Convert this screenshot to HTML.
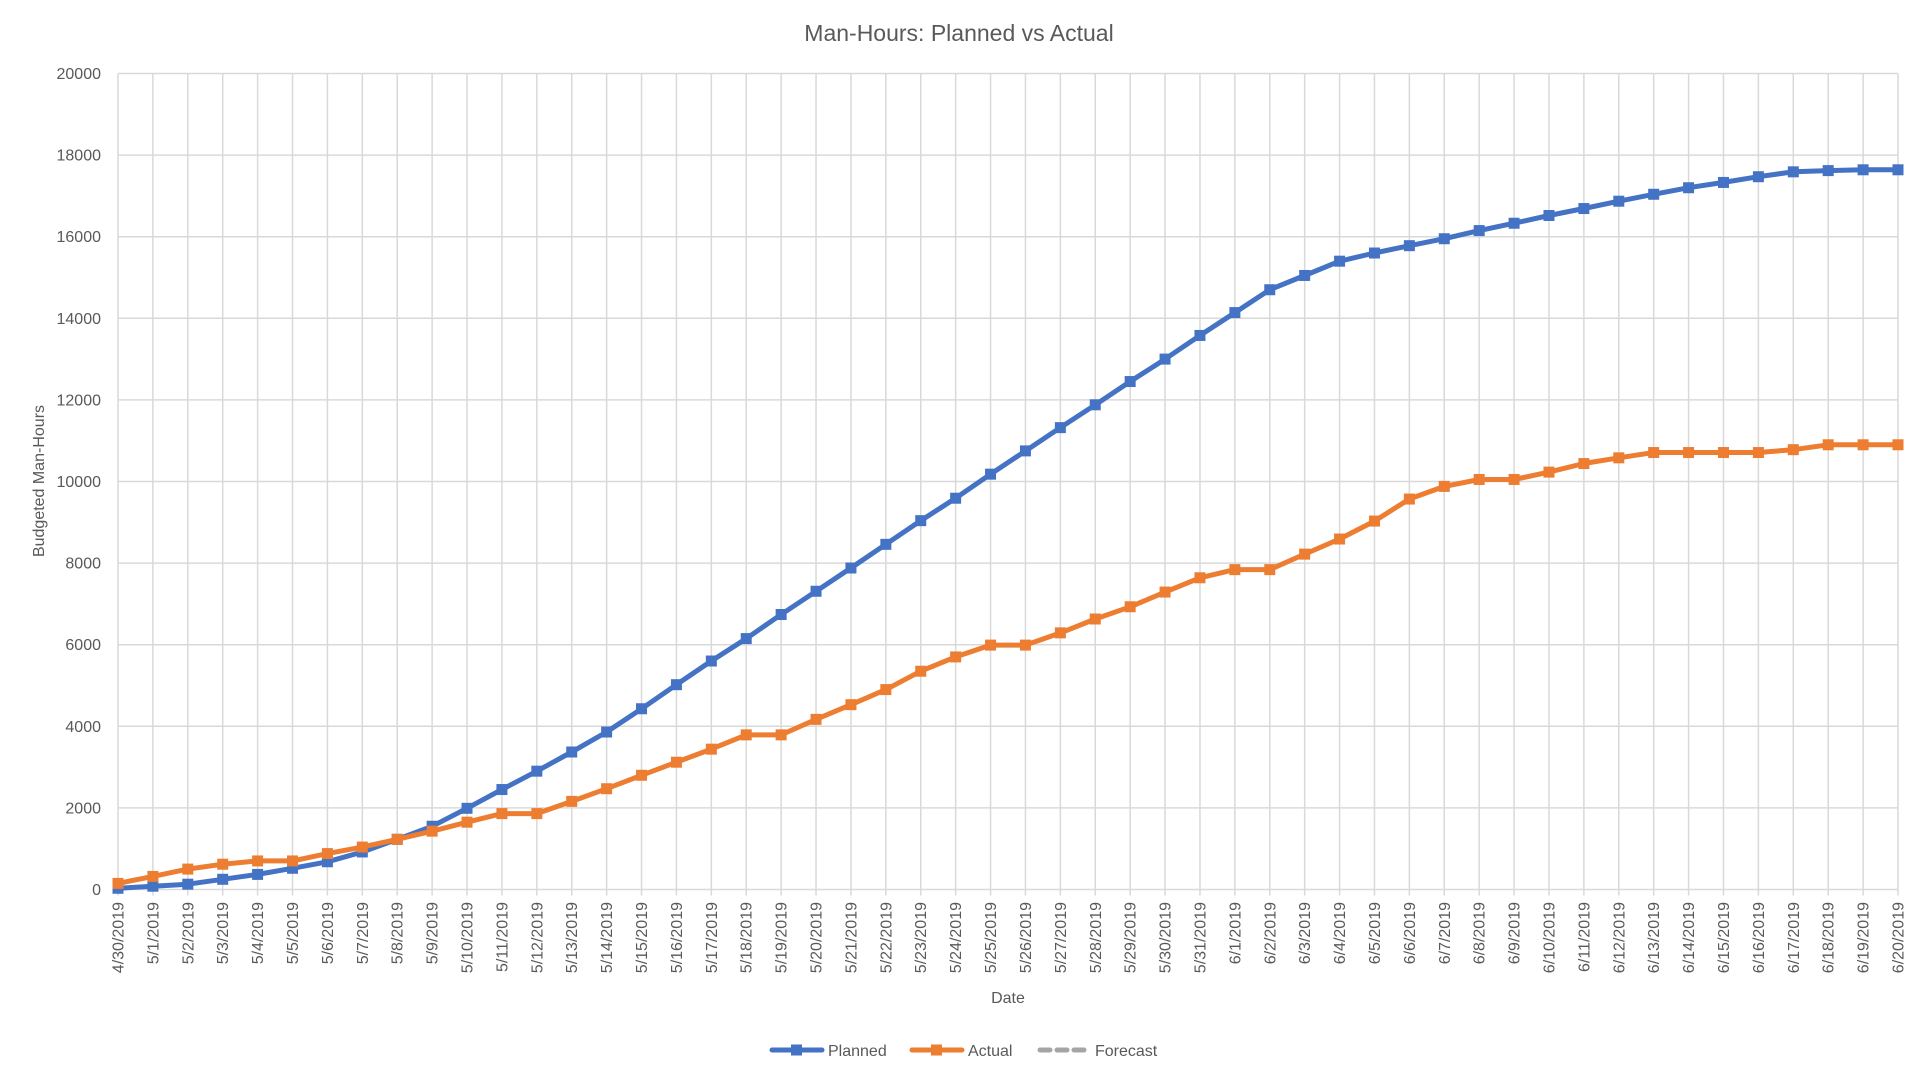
<!DOCTYPE html>
<html><head><meta charset="utf-8"><style>
html,body{margin:0;padding:0;background:#fff;width:1920px;height:1080px;overflow:hidden}
svg text{font-family:"Liberation Sans",sans-serif;fill:#595959}
</style></head><body>
<svg id="c" width="1920" height="1080" xmlns="http://www.w3.org/2000/svg"></svg>
<script>
const P=[30,80,130,250,370,520,680,920,1230,1550,1990,2450,2900,3370,3860,4430,5020,5600,6150,6740,7310,7880,8460,9040,9590,10180,10750,11320,11880,12450,13000,13580,14140,14700,15050,15400,15600,15780,15950,16150,16330,16520,16690,16870,17040,17200,17330,17470,17590,17620,17640,17640];
const A=[150,320,500,620,700,700,880,1040,1230,1430,1650,1860,1860,2160,2470,2800,3120,3440,3790,3790,4170,4530,4900,5350,5700,5990,5990,6290,6630,6930,7290,7640,7840,7840,8220,8590,9030,9570,9880,10050,10050,10230,10440,10580,10710,10710,10710,10710,10780,10900,10900,10900];
const L=118,R=1898,T=73.5,B=889.5,n=52,dx=(R-L)/(n-1);
const X=i=>L+i*dx, Y=v=>B-(v/20000)*(B-T);
let s='';
s+=`<text x="959" y="41" font-size="23" text-anchor="middle">Man-Hours: Planned vs Actual</text>`;
for(let k=0;k<=10;k++){const y=Y(k*2000);s+=`<line x1="${L}" x2="${R}" y1="${y}" y2="${y}" stroke="#d9d9d9" stroke-width="1.5"/>`;
s+=`<text x="101" y="${y+5.5}" font-size="16" text-anchor="end">${k*2000}</text>`;}
const labels=[];labels.push('4/30/2019');for(let d=1;d<=31;d++)labels.push('5/'+d+'/2019');for(let d=1;d<=20;d++)labels.push('6/'+d+'/2019');
for(let i=0;i<n;i++){const x=X(i);s+=`<line x1="${x}" x2="${x}" y1="${T}" y2="${B+6}" stroke="#d9d9d9" stroke-width="1.5"/>`;
s+=`<text transform="translate(${x+5.5},${902}) rotate(-90)" font-size="16" text-anchor="end">${labels[i]}</text>`;}
function ser(d,c){let p=d.map((v,i)=>`${X(i).toFixed(1)},${Y(v).toFixed(1)}`).join(' ');
let o=`<polyline points="${p}" fill="none" stroke="${c}" stroke-width="5" stroke-linejoin="round" stroke-linecap="round"/>`;
d.forEach((v,i)=>{o+=`<rect x="${X(i)-5.5}" y="${Y(v)-5.5}" width="11" height="11" fill="${c}"/>`});return o;}
s+=ser(P,'#4472c4');s+=ser(A,'#ed7d31');
s+=`<text transform="translate(44,481) rotate(-90)" font-size="16" text-anchor="middle">Budgeted Man-Hours</text>`;
s+=`<text x="1008" y="1003" font-size="16" text-anchor="middle">Date</text>`;
s+=`<line x1="772" x2="822" y1="1050" y2="1050" stroke="#4472c4" stroke-width="5" stroke-linecap="round"/><rect x="791" y="1044.5" width="11" height="11" fill="#4472c4"/><text x="828" y="1056" font-size="16">Planned</text>`;
s+=`<line x1="912" x2="962" y1="1050" y2="1050" stroke="#ed7d31" stroke-width="5" stroke-linecap="round"/><rect x="931" y="1044.5" width="11" height="11" fill="#ed7d31"/><text x="968" y="1056" font-size="16">Actual</text>`;
s+=`<line x1="1040" x2="1090" y1="1050" y2="1050" stroke="#a5a5a5" stroke-width="5" stroke-dasharray="10,7" stroke-linecap="round"/><text x="1095" y="1056" font-size="16">Forecast</text>`;
document.getElementById('c').innerHTML=s;
</script>
</body></html>
